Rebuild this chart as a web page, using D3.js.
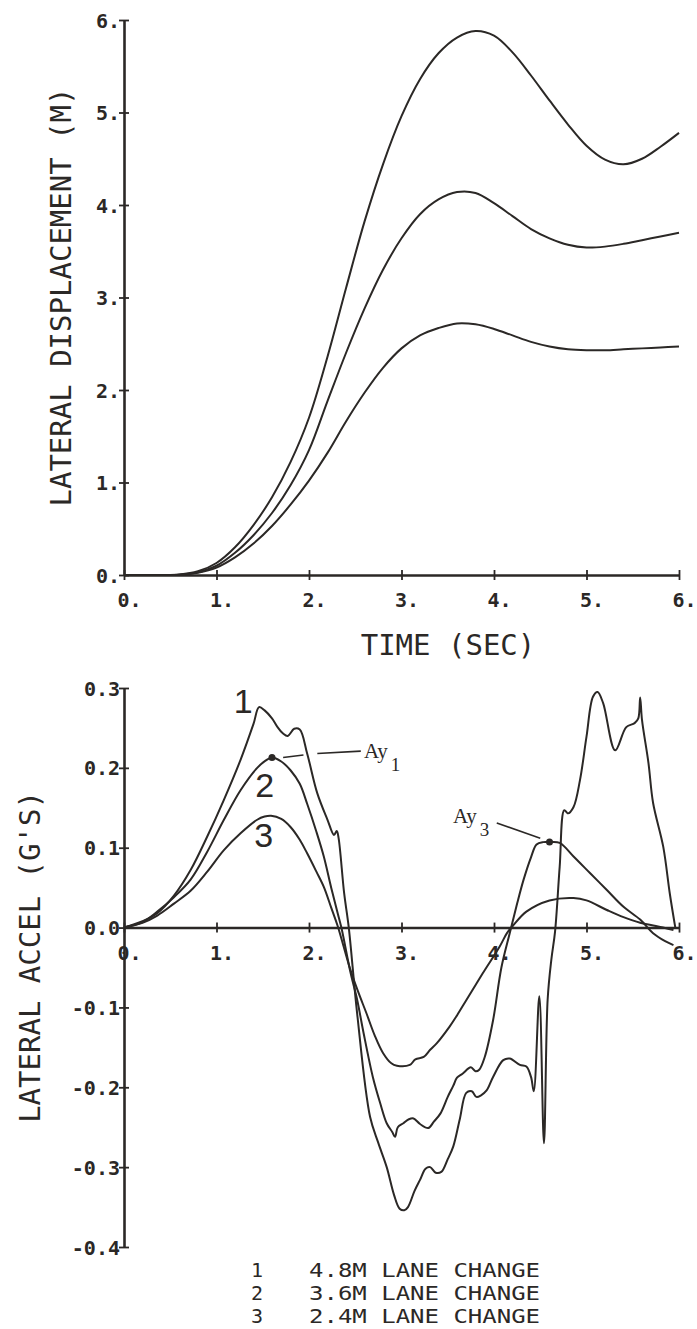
<html>
<head>
<script src="https://d3js.org/d3.v7.min.js"></script>
<style>
    body{margin:0;background:#fff;}
    svg{display:block;}
    .ax text{font-family:"DejaVu Sans Mono",monospace;font-size:20px;font-weight:bold;fill:#2b2826;}
    .ttl{font-family:"DejaVu Sans Mono",monospace;font-size:29px;fill:#2b2826;}
    .leg text{font-family:"DejaVu Sans Mono",monospace;font-size:20px;fill:#2b2826;}
</style>
</head>
<body>
<script>
// ---- data ----
const timeTicks = [0, 1, 2, 3, 4, 5, 6];
const dispTicks = [0, 1, 2, 3, 4, 5, 6];
const accelTicks = [-0.4, -0.3, -0.2, -0.1, 0, 0.1, 0.2, 0.3];

// lateral displacement (m), sampled every 0.2 s
const dispTime = [0, 0.2, 0.4, 0.6, 0.8, 1.0, 1.2, 1.4, 1.6, 1.8, 2.0, 2.2, 2.4, 2.6, 2.8, 3.0,
                  3.2, 3.4, 3.6, 3.8, 4.0, 4.2, 4.4, 4.6, 4.8, 5.0, 5.2, 5.4, 5.6, 5.8, 6.0];
const disp48 = [0, 0, 0, 0.005, 0.04, 0.13, 0.30, 0.54, 0.84, 1.22, 1.70, 2.36, 3.10, 3.82, 4.44, 4.96,
                5.36, 5.64, 5.81, 5.88, 5.83, 5.65, 5.40, 5.13, 4.87, 4.64, 4.49, 4.44, 4.50, 4.63, 4.78];
const disp36 = [0, 0, 0, 0.004, 0.03, 0.10, 0.24, 0.43, 0.67, 0.97, 1.35, 1.88, 2.40, 2.88, 3.30, 3.64,
                3.90, 4.06, 4.14, 4.13, 4.02, 3.88, 3.74, 3.64, 3.57, 3.54, 3.55, 3.58, 3.62, 3.66, 3.70];
const disp24 = [0, 0, 0, 0.003, 0.025, 0.08, 0.19, 0.34, 0.53, 0.76, 1.02, 1.32, 1.66, 1.97, 2.24, 2.45,
                2.59, 2.67, 2.72, 2.71, 2.66, 2.59, 2.52, 2.47, 2.44, 2.43, 2.43, 2.44, 2.45, 2.46, 2.47];

// lateral acceleration (g)
const accTime48 = [0, 0.2, 0.36, 0.54, 0.72, 0.9, 1.08, 1.26, 1.4, 1.46, 1.52, 1.6, 1.66, 1.72, 1.77,
                   1.84, 1.9, 1.98, 2.09, 2.2, 2.27, 2.3, 2.32, 2.38, 2.43, 2.52, 2.66, 2.75, 2.84, 2.92,
                   2.98, 3.03, 3.07, 3.14, 3.2, 3.26, 3.31, 3.37, 3.43, 3.5, 3.56, 3.63, 3.7, 3.76, 3.81,
                   3.86, 3.92, 3.99, 4.1, 4.17, 4.28, 4.35, 4.4, 4.43, 4.49, 4.54, 4.58, 4.62, 4.66, 4.71,
                   4.76, 4.8, 4.86, 4.93, 5.0, 5.07, 5.12, 5.18, 5.31, 5.43, 5.52, 5.56, 5.58, 5.6, 5.67,
                   5.72, 5.83, 5.9, 5.96];
const acc48 = [0, 0.008, 0.018, 0.04, 0.072, 0.114, 0.16, 0.21, 0.255, 0.276, 0.272, 0.262, 0.251, 0.243, 0.24,
               0.249, 0.248, 0.218, 0.168, 0.135, 0.116, 0.121, 0.112, 0.043, 0, -0.107, -0.237, -0.27, -0.30, -0.335,
               -0.352, -0.354, -0.35, -0.33, -0.316, -0.302, -0.30, -0.307, -0.306, -0.29, -0.274, -0.24, -0.207, -0.205, -0.212,
               -0.21, -0.204, -0.187, -0.166, -0.164, -0.172, -0.174, -0.187, -0.205, -0.086, -0.27, -0.09, -0.04, -0.005, 0.076,
               0.147, 0.143, 0.151, 0.185, 0.239, 0.289, 0.295, 0.281, 0.222, 0.251, 0.256, 0.262, 0.288, 0.26, 0.206,
               0.156, 0.101, 0.043, 0];
const accTime36 = [0, 0.2, 0.36, 0.54, 0.72, 0.9, 1.08, 1.26, 1.44, 1.53, 1.6, 1.7, 1.8, 1.9, 1.98,
                   2.08, 2.16, 2.24, 2.31, 2.35, 2.45, 2.52, 2.59, 2.69, 2.77, 2.84, 2.9, 2.93, 2.96, 3.02,
                   3.08, 3.13, 3.2, 3.29, 3.35, 3.42, 3.5, 3.56, 3.6, 3.66, 3.75, 3.8, 3.84, 3.9, 3.99,
                   4.08, 4.17, 4.25, 4.32, 4.4, 4.46, 4.53, 4.6, 4.71, 4.86, 5.04, 5.22, 5.4, 5.58, 5.72,
                   5.85, 5.94];
const acc36 = [0, 0.007, 0.02, 0.038, 0.06, 0.095, 0.135, 0.172, 0.2, 0.209, 0.213, 0.208, 0.197, 0.18, 0.155,
               0.12, 0.089, 0.05, 0.018, 0, -0.057, -0.09, -0.132, -0.187, -0.22, -0.245, -0.256, -0.262, -0.25, -0.245,
               -0.24, -0.239, -0.246, -0.251, -0.243, -0.233, -0.212, -0.198, -0.188, -0.183, -0.175, -0.18, -0.178, -0.162, -0.116,
               -0.05, -0.007, 0.03, 0.06, 0.088, 0.104, 0.107, 0.107, 0.106, 0.089, 0.068, 0.047, 0.026, 0.01, -0.007,
               -0.017, -0.022];
const accTime24 = [0, 0.2, 0.36, 0.54, 0.72, 0.9, 1.08, 1.26, 1.44, 1.52, 1.59, 1.7, 1.8, 1.9, 1.98,
                   2.08, 2.16, 2.24, 2.31, 2.44, 2.53, 2.62, 2.71, 2.8, 2.89, 2.95, 3.09, 3.15, 3.24, 3.31,
                   3.38, 3.52, 3.6, 3.7, 3.88, 4.06, 4.14, 4.21, 4.35, 4.6, 4.86, 5.0, 5.22, 5.4, 5.58,
                   5.75, 5.94];
const acc24 = [0, 0.006, 0.015, 0.03, 0.046, 0.07, 0.097, 0.118, 0.135, 0.139, 0.14, 0.136, 0.126, 0.11, 0.093,
               0.07, 0.051, 0.025, 0.002, -0.05, -0.08, -0.107, -0.135, -0.157, -0.17, -0.173, -0.172, -0.165, -0.162, -0.153,
               -0.145, -0.124, -0.11, -0.091, -0.057, -0.024, -0.007, 0.003, 0.02, 0.034, 0.037, 0.034, 0.022, 0.013, 0.006,
               0.002, -0.003];

const curveIds = ['1', '2', '3'];
const laneChanges = ['4.8M LANE CHANGE', '3.6M LANE CHANGE', '2.4M LANE CHANGE'];

// peak markers (time, accel) and their label anchors
const ay1 = {t: 1.6, a: 0.213, lt: 2.595, la: 0.2125, sub: '1'};
const ay3 = {t: 4.6, a: 0.107, lt: 3.557, la: 0.131, sub: '3'};

// ---- drawing ----
const w = 697, h = 1329;
const ink = '#2b2826';

const svg = d3.select('body').append('svg')
    .attr('width', w)
    .attr('height', h);
svg.append('rect').attr('width', w).attr('height', h).attr('fill', '#fff');

const x = d3.scaleLinear().domain([0, 6]).range([124, 679]);
const yDisp = d3.scaleLinear().domain([0, 6]).range([575, 20]);
const yAcc = d3.scaleLinear().domain([-0.4, 0.3]).range([1247, 688]);

function xAxis(yPos) {
    const g = svg.append('g')
        .attr('class', 'ax')
        .attr('transform', 'translate(0,' + yPos + ')')
        .call(d3.axisBottom(x).tickValues(timeTicks).tickSizeOuter(0).tickFormat(d => d + '.'));
    g.select('.domain').attr('stroke', ink).attr('stroke-width', 2.6);
    g.selectAll('.tick line').attr('stroke', ink).attr('stroke-width', 1.8).attr('y1', -5).attr('y2', 5);
    g.selectAll('.tick text').attr('y', 25).attr('dy', '0.35em').attr('x', -7).attr('text-anchor', 'start');
}

function yAxis(scale, ticks, fmt) {
    const g = svg.append('g')
        .attr('class', 'ax')
        .attr('transform', 'translate(' + x(0) + ',0)')
        .call(d3.axisLeft(scale).tickValues(ticks).tickSizeOuter(0).tickFormat(fmt));
    g.select('.domain').attr('stroke', ink).attr('stroke-width', 2.6);
    g.selectAll('.tick line').attr('stroke', ink).attr('stroke-width', 1.8).attr('x1', -5).attr('x2', 5);
    g.selectAll('.tick text').attr('x', -4).attr('dy', '0.35em').attr('text-anchor', 'end');
}

// top panel
xAxis(yDisp(0));
yAxis(yDisp, dispTicks, d => d + '.');

const dispLine = d3.line()
    .x(d => x(d[0]))
    .y(d => yDisp(d[1]))
    .curve(d3.curveCatmullRom.alpha(0.5));

[disp48, disp36, disp24].forEach(series => {
    svg.append('path')
        .datum(dispTime.map((t, i) => [t, series[i]]))
        .attr('d', dispLine)
        .attr('fill', 'none')
        .attr('stroke', ink)
        .attr('stroke-width', 2);
});

svg.append('text').attr('class', 'ttl')
    .attr('x', 448).attr('y', 655)
    .attr('text-anchor', 'middle')
    .text('TIME (SEC)');

svg.append('text').attr('class', 'ttl')
    .attr('transform', 'translate(61,297) rotate(-90)')
    .attr('text-anchor', 'middle')
    .attr('dy', '0.35em')
    .text('LATERAL DISPLACEMENT (M)');

// bottom panel
xAxis(yAcc(0));
yAxis(yAcc, accelTicks, d => d.toFixed(1));

const accLine = d3.line()
    .x(d => x(d[0]))
    .y(d => yAcc(d[1]))
    .curve(d3.curveCatmullRom.alpha(0.5));

[[accTime48, acc48], [accTime36, acc36], [accTime24, acc24]].forEach(s => {
    svg.append('path')
        .datum(s[0].map((t, i) => [t, s[1][i]]))
        .attr('d', accLine)
        .attr('fill', 'none')
        .attr('stroke', ink)
        .attr('stroke-width', 2);
});

svg.append('text').attr('class', 'ttl')
    .attr('transform', 'translate(30,957) rotate(-90)')
    .attr('text-anchor', 'middle')
    .attr('dy', '0.35em')
    .text("LATERAL ACCEL (G'S)");

// curve numbers beside the first peaks
const idPos = [[1.29, 0.269], [1.52, 0.164], [1.51, 0.101]];
svg.selectAll('.cid')
    .data(curveIds)
    .enter()
    .append('text')
    .attr('class', 'cid')
    .attr('x', (d, i) => x(idPos[i][0]))
    .attr('y', (d, i) => yAcc(idPos[i][1]))
    .attr('text-anchor', 'middle')
    .style('font-family', '"Liberation Sans", sans-serif')
    .style('font-weight', 300)
    .style('font-size', '34px')
    .attr('fill', ink)
    .text(d => d);

// Ay markers
[ay1, ay3].forEach(p => {
    svg.append('circle')
        .attr('cx', x(p.t)).attr('cy', yAcc(p.a))
        .attr('r', 3.5).attr('fill', ink);
    const t = svg.append('text')
        .attr('x', x(p.lt)).attr('y', yAcc(p.la))
        .style('font-family', '"Liberation Serif", serif')
        .style('font-size', '21px')
        .attr('fill', ink)
        .text('Ay');
    t.append('tspan').attr('dx', 3).attr('dy', 13).style('font-size', '19px').text(p.sub);
});

// leader lines (two pieces for Ay1 to clear curve 1)
const leaders = [
    [[1.72, 0.213], [1.94, 0.216]],
    [[2.09, 0.218], [2.56, 0.221]],
    [[4.03, 0.131], [4.50, 0.112]]
];
leaders.forEach(seg => {
    svg.append('line')
        .attr('x1', x(seg[0][0])).attr('y1', yAcc(seg[0][1]))
        .attr('x2', x(seg[1][0])).attr('y2', yAcc(seg[1][1]))
        .attr('stroke', ink).attr('stroke-width', 1.6);
});

// legend
const legend = svg.selectAll('.leg')
    .data(laneChanges)
    .enter()
    .append('g')
    .attr('class', 'leg')
    .attr('transform', (d, i) => 'translate(0,' + (1277 + i * 23) + ')');

legend.append('text')
    .attr('x', 257)
    .attr('text-anchor', 'middle')
    .text((d, i) => curveIds[i]);

legend.append('text')
    .attr('x', 309)
    .attr('textLength', 231)
    .attr('lengthAdjust', 'spacingAndGlyphs')
    .text(d => d);
</script>
</body>
</html>
